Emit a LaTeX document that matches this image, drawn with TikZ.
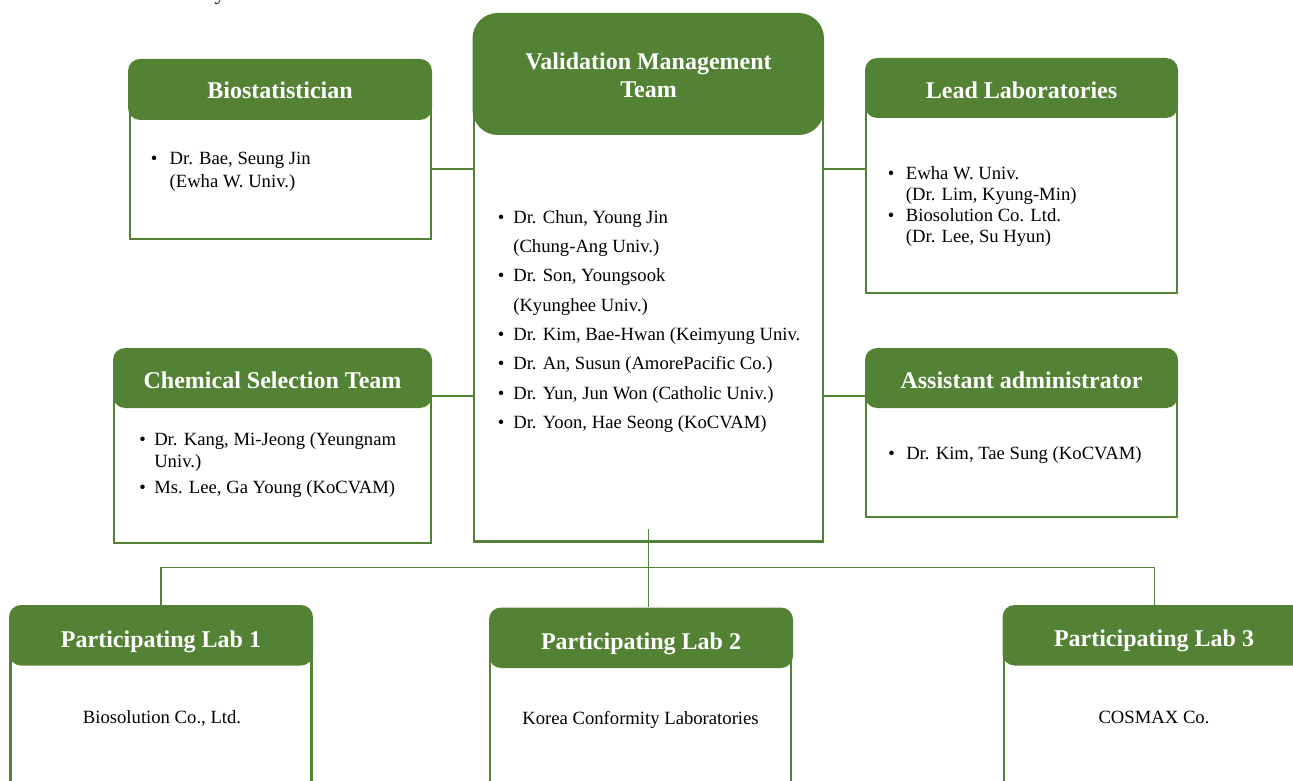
\documentclass[tikz,border=0pt]{standalone}
\usepackage{fontspec}
\setmainfont{Liberation Serif}
\usetikzlibrary{fit}
\definecolor{vgreen}{HTML}{548235}
\newcommand{\bpt}[1]{\makebox[#1][l]{\textbullet}}
\begin{document}
\begin{tikzpicture}[x=0.75pt,y=-0.75pt,
  hdr/.style={fill=vgreen, rounded corners=9pt, inner sep=0pt, draw=none},
  bodybox/.style={draw=vgreen, line width=1.6pt, fill=white, inner sep=0pt},
  link/.style={draw=vgreen, line width=1.5pt},
  bus/.style={draw=vgreen, line width=1pt},
  htext/.style={text=white, font=\bfseries\fontsize{18}{20.5}\selectfont, anchor=base, inner sep=0pt},
  btext/.style={anchor=base west, align=left, inner sep=0pt},
  ltext/.style={font=\fontsize{14}{17}\selectfont, anchor=base, inner sep=0pt}]
\useasboundingbox (0,0) rectangle (1293,781);
% cut-off text at the top
\node[anchor=base west, inner sep=0pt, font=\fontsize{18}{20}\selectfont, text=black!80] (cut) at (214,0) {y};
% bodies
\node[bodybox, fit={(130,90) (431,239)}] (bioB) {};
\node[bodybox, fit={(474,110) (823,541.3)}, line width=2pt] (vmtB) {};
\node[bodybox, fit={(866,90) (1177,293)}] (leadB) {};
\node[bodybox, fit={(114,378) (431,543)}] (chemB) {};
\node[bodybox, fit={(866,378) (1177,517)}] (asstB) {};
\node[bodybox, fit={(10.5,635) (311.5,800)}] (labAB) {};
\node[bodybox, fit={(490,638) (791,800)}] (labBB) {};
\node[bodybox, fit={(1004,635) (1320,800)}] (labCB) {};
% headers
\node[hdr, fit={(128,59) (432,120)}] (bioH) {};
\node[hdr, fit={(472.5,13) (824,135)}, rounded corners=19pt] (vmtH) {};
\node[hdr, fit={(865,58) (1178,118)}] (leadH) {};
\node[hdr, fit={(113,348) (432,408)}] (chemH) {};
\node[hdr, fit={(865,348) (1178,408)}] (asstH) {};
\node[hdr, fit={(9,605) (313,665.5)}] (labAH) {};
\node[hdr, fit={(489,607.5) (793,668)}] (labBH) {};
\node[hdr, fit={(1002.5,605) (1306,665.5)}] (labCH) {};
% header texts
\node[htext] (bioL) at (280,99) {Biostatistician};
\node[htext, anchor=center, align=center] (vmtL) at (648.5,75.3) {Validation Management\\Team};
\node[htext] (leadL) at (1021.5,98.5) {Lead Laboratories};
\node[htext] (chemL) at (272.5,388.3) {Chemical Selection Team};
\node[htext] (asstL) at (1021.5,388.3) {Assistant administrator};
\node[htext] (labAL) at (161,647) {Participating Lab 1};
\node[htext] (labBL) at (641,649) {Participating Lab 2};
\node[htext] (labCL) at (1154,646) {Participating Lab 3};
% body texts (base anchor = baseline of the last line)
\node[btext, font=\fontsize{14}{17.25}\selectfont] (bioT) at (150.7,187.3)
  {\bpt{14pt}Dr. Bae, Seung Jin\\\hspace*{14pt}(Ewha W. Univ.)};
\node[btext, font=\fontsize{14}{22}\selectfont] (vmtT) at (497.7,428.4)
  {\bpt{11.5pt}Dr. Chun, Young Jin\\
   \hspace*{11.5pt}(Chung-Ang Univ.)\\
   \bpt{11.5pt}Dr. Son, Youngsook\\
   \hspace*{11.5pt}(Kyunghee Univ.)\\
   \bpt{11.5pt}Dr. Kim, Bae-Hwan (Keimyung Univ.\\
   \bpt{11.5pt}Dr. An, Susun (AmorePacific Co.)\\
   \bpt{11.5pt}Dr. Yun, Jun Won (Catholic Univ.)\\
   \bpt{11.5pt}Dr. Yoon, Hae Seong (KoCVAM)};
\node[btext, font=\fontsize{14}{15.9}\selectfont] (leadT) at (887.7,242.6)
  {\bpt{13.5pt}Ewha W. Univ.\\
   \hspace*{13.5pt}(Dr. Lim, Kyung-Min)\\
   \bpt{13.5pt}Biosolution Co. Ltd.\\
   \hspace*{13.5pt}(Dr. Lee, Su Hyun)};
\node[btext, font=\fontsize{14}{16}\selectfont] (chemT) at (139,493.3)
  {\bpt{11.25pt}Dr. Kang, Mi-Jeong (Yeungnam\\
   \hspace*{11.25pt}Univ.)\\[3.5pt]
   \bpt{11.25pt}Ms. Lee, Ga Young (KoCVAM)};
\node[btext, font=\fontsize{14}{16}\selectfont] (asstT) at (888,459)
  {\bpt{13.5pt}Dr. Kim, Tae Sung (KoCVAM)};
\node[ltext] (labAT) at (162,723) {Biosolution Co., Ltd.};
\node[ltext] (labBT) at (640.5,724) {Korea Conformity Laboratories};
\node[ltext] (labCT) at (1154,723) {COSMAX Co.};
% connectors
\coordinate (jTop) at (452,169);
\coordinate (jMid) at (452,396);
\draw[link] (bioB.east |- jTop) -- (vmtB.west |- jTop);
\draw[link] (vmtB.east |- jTop) -- (leadB.west |- jTop);
\draw[link] (chemB.east |- jMid) -- (vmtB.west |- jMid);
\draw[link] (vmtB.east |- jMid) -- (asstB.west |- jMid);
\coordinate (vTop) at (648.3,529);
\coordinate (bus) at (648.3,567.7);
\draw[bus] (vTop) -- (vTop |- labBH.north);
\draw[bus] (labAH.north) |- (bus) -| (labCH.north);
\end{tikzpicture}
\end{document}
